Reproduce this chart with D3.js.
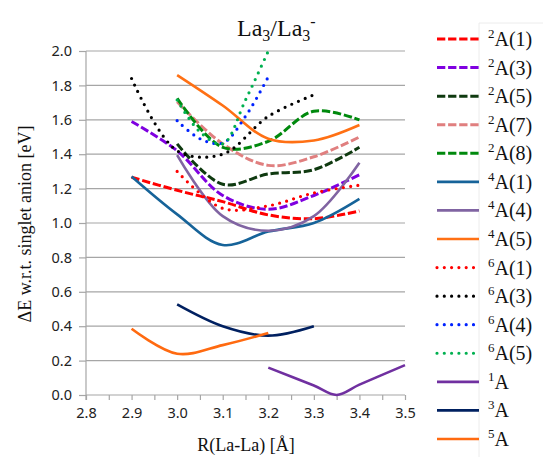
<!DOCTYPE html>
<html>
<head>
<meta charset="utf-8">
<script src="https://cdn.jsdelivr.net/npm/d3@7"></script>
<style>
  body { margin: 0; background: #fff; }
  svg { display: block; }
</style>
</head>
<body>
<div id="chart"></div>
<script>
// energies (eV) vs La-La distance (Å)
const a2_1 = [[2.9, 1.266], [3.0, 1.19], [3.1, 1.124], [3.2, 1.047], [3.3, 1.025], [3.4, 1.07]];
const a2_3 = [[2.9, 1.59], [3.0, 1.42], [3.1, 1.16], [3.2, 1.08], [3.3, 1.16], [3.4, 1.28]];
const a2_5 = [[3.0, 1.46], [3.1, 1.225], [3.2, 1.285], [3.3, 1.31], [3.4, 1.44]];
const a2_7 = [[3.0, 1.705], [3.1, 1.46], [3.2, 1.335], [3.3, 1.385], [3.4, 1.50]];
const a2_8 = [[3.0, 1.725], [3.1, 1.44], [3.2, 1.475], [3.3, 1.65], [3.4, 1.60]];
const a4_1 = [[2.9, 1.27], [3.0, 1.05], [3.1, 0.872], [3.2, 0.95], [3.3, 1.0], [3.4, 1.14]];
const a4_4 = [[3.0, 1.395], [3.1, 1.04], [3.2, 0.955], [3.3, 1.04], [3.4, 1.35]];
const a4_5 = [[3.0, 1.86], [3.1, 1.683], [3.2, 1.49], [3.3, 1.48], [3.4, 1.57]];
const a6_1 = [[3.0, 1.30], [3.1, 1.085], [3.2, 1.10], [3.3, 1.175], [3.4, 1.22]];
const a6_3 = [[2.9, 1.84], [3.0, 1.42], [3.1, 1.40], [3.2, 1.62], [3.3, 1.745]];
const a6_4 = [[3.0, 1.595], [3.05, 1.49], [3.1, 1.465], [3.15, 1.62], [3.2, 1.85]];
const a6_5 = [[3.0, 1.715], [3.05, 1.53], [3.1, 1.46], [3.15, 1.715], [3.2, 2.0]];
const s1 = [[3.2, 0.159], [3.3, 0.055], [3.35, 0.0], [3.4, 0.06], [3.5, 0.174]];
const s3 = [[3.0, 0.527], [3.1, 0.40], [3.2, 0.345], [3.3, 0.40]];
const s5 = [[2.9, 0.385], [3.0, 0.24], [3.1, 0.29], [3.2, 0.36]];

const seriesNames = [
  ['2', 'A(1)'], ['2', 'A(3)'], ['2', 'A(5)'], ['2', 'A(7)'], ['2', 'A(8)'],
  ['4', 'A(1)'], ['4', 'A(4)'], ['4', 'A(5)'],
  ['6', 'A(1)'], ['6', 'A(3)'], ['6', 'A(4)'], ['6', 'A(5)'],
  ['1', 'A'], ['3', 'A'], ['5', 'A']
];
const seriesData = [a2_1, a2_3, a2_5, a2_7, a2_8, a4_1, a4_4, a4_5, a6_1, a6_3, a6_4, a6_5, s1, s3, s5];

const xTicks = [2.8, 2.9, 3.0, 3.1, 3.2, 3.3, 3.4, 3.5];
const yTicks = [0.0, 0.2, 0.4, 0.6, 0.8, 1.0, 1.2, 1.4, 1.6, 1.8, 2.0];

// styles, same order as the series
const colors = ['#ff0000', '#7f00e0', '#0f3a10', '#e07f7f', '#00890d', '#166399', '#8064a2', '#ff7014',
                '#ff0000', '#000000', '#0022ff', '#00b050', '#7030a0', '#002060', '#ff6a10'];
const kinds = ['dash', 'dash', 'dash', 'dash', 'dash', 'solid', 'solid', 'solid',
               'dot', 'dot', 'dot', 'dot', 'solid', 'solid', 'solid'];

const width = 543, height = 457;
const svg = d3.select('#chart').append('svg')
  .attr('width', width).attr('height', height);

const x = d3.scaleLinear().domain([2.8, 3.5]).range([86, 405]);
const y = d3.scaleLinear().domain([0, 2]).range([395, 51]);

const serif = '"Liberation Serif", "Times New Roman", serif';
const sans = '"Noto Sans", "Open Sans", sans-serif';

// gridlines
svg.append('g').selectAll('line').data(yTicks).enter().append('line')
  .attr('x1', x(2.8)).attr('x2', x(3.5))
  .attr('y1', d => y(d)).attr('y2', d => y(d))
  .attr('stroke', '#a6a6a6').attr('stroke-width', 1.2);

// y axis
const yAxis = d3.axisLeft(y).tickValues(yTicks).tickSize(7).tickPadding(7)
  .tickFormat(d3.format('.1f'));
const gy = svg.append('g').attr('transform', `translate(${x(2.8)},0)`).call(yAxis);
gy.select('.domain').remove();
gy.selectAll('.tick line').attr('stroke', '#a6a6a6').attr('stroke-width', 1.2);
gy.selectAll('.tick text').attr('font-family', sans).attr('font-size', 14.5).attr('fill', '#222');
svg.append('line').attr('x1', x(2.8)).attr('x2', x(2.8)).attr('y1', y(2)).attr('y2', y(0) + 5)
  .attr('stroke', '#a6a6a6').attr('stroke-width', 1.2);

// x axis with minor ticks
const gx = svg.append('g').attr('transform', `translate(0,${y(0)})`)
  .call(d3.axisBottom(x).ticks(14).tickSize(5).tickFormat(''));
gx.select('.domain').remove();
gx.selectAll('.tick line').attr('stroke', '#a6a6a6').attr('stroke-width', 1.2);
const gx2 = svg.append('g').attr('transform', `translate(0,${y(0)})`)
  .call(d3.axisBottom(x).tickValues(xTicks).tickSize(0).tickPadding(13).tickFormat(d3.format('.1f')));
gx2.select('.domain').remove();
gx2.selectAll('.tick text').attr('font-family', sans).attr('font-size', 14.5).attr('fill', '#222');

// curves
const line = d3.line()
  .x(d => x(d[0])).y(d => y(d[1]))
  .curve(d3.curveCatmullRom.alpha(0.5));

function applyStyle(sel, i) {
  sel.attr('fill', 'none').attr('stroke', colors[i]);
  if (kinds[i] === 'dash') {
    sel.attr('stroke-width', 3).attr('stroke-dasharray', '8.3,2.8');
  } else if (kinds[i] === 'dot') {
    sel.attr('stroke-width', 3.2).attr('stroke-dasharray', '0,7.3').attr('stroke-linecap', 'round');
  } else {
    sel.attr('stroke-width', 2.6);
  }
}

seriesData.forEach((s, i) => {
  svg.append('path').datum(s).attr('d', line).call(applyStyle, i);
});

// title
const title = svg.append('text').attr('x', 237).attr('y', 36)
  .attr('font-family', serif).attr('font-size', 24).attr('fill', '#111');
title.append('tspan').text('La');
title.append('tspan').attr('font-size', 16).attr('dy', 5).text('3');
title.append('tspan').attr('dy', -5).text('/La');
title.append('tspan').attr('font-size', 16).attr('dy', 5).text('3');
title.append('tspan').attr('font-size', 16).attr('dy', -14).text('-');

// axis titles
svg.append('text').attr('x', 246).attr('y', 451).attr('text-anchor', 'middle')
  .attr('font-family', serif).attr('font-size', 18).attr('fill', '#111')
  .text('R(La-La) [Å]');
svg.append('text').attr('transform', 'translate(31,224) rotate(-90)').attr('text-anchor', 'middle')
  .attr('font-family', serif).attr('font-size', 18).attr('fill', '#111')
  .text('ΔE w.r.t. singlet anion [eV]');

// legend
svg.append('path').attr('d', 'M479,457V23H543').attr('fill', 'none')
  .attr('stroke', '#ececec').attr('stroke-width', 1);
const leg = svg.append('g').selectAll('g').data(seriesNames).enter().append('g')
  .attr('transform', (d, i) => `translate(0,${39 + i * 28.57})`);
leg.each(function (d, i) {
  const g = d3.select(this);
  g.append('line').attr('x1', 437).attr('x2', 479).attr('y1', 0).attr('y2', 0)
    .call(applyStyle, i);
  const t = g.append('text').attr('x', 488).attr('y', 7)
    .attr('font-family', serif).attr('font-size', 20).attr('fill', '#111');
  t.append('tspan').attr('font-size', 13).attr('dy', -8).text(d[0]);
  t.append('tspan').attr('dy', 8).text(d[1]);
});
</script>
</body>
</html>
